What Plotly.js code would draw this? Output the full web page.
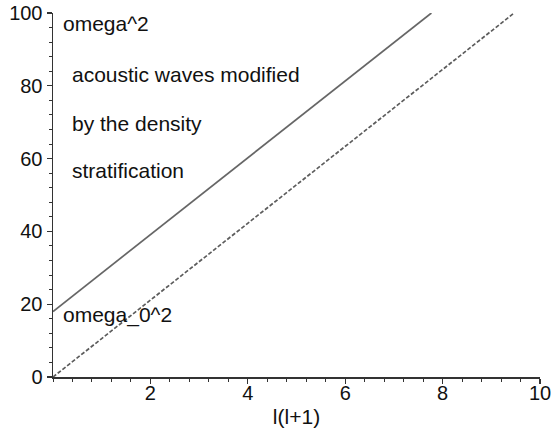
<!DOCTYPE html>
<html>
<head>
<meta charset="utf-8">
<script src="https://cdn.plot.ly/plotly-3.0.1.min.js"></script>
<style>
  html, body { margin: 0; padding: 0; background: #fff; }
  #plot { width: 555px; height: 428px; }
</style>
</head>
<body>
<div id="plot"></div>
<script>
// Dispersion sketch: omega^2 against l(l+1)
const modifiedL = [0, 7.77];       // l(l+1), acoustic branch with density stratification
const modifiedOmega2 = [18, 100];  // omega^2
const plainL = [0, 9.47];          // l(l+1), unmodified acoustic branch
const plainOmega2 = [0, 100];      // omega^2

const xTicks = [2, 4, 6, 8, 10];
const yTicks = [0, 20, 40, 60, 80, 100];

const labels = [
  { text: 'omega^2', x: 0.2, y: 97.1 },
  { text: 'acoustic waves modified', x: 0.384, y: 83.0 },
  { text: 'by the density', x: 0.384, y: 69.6 },
  { text: 'stratification', x: 0.384, y: 56.75 },
  { text: 'omega_0^2', x: 0.2, y: 16.9 }
];

const lineColor = '#666666';
const axisColor = '#333333';
const font = 'Liberation Sans, Arial, sans-serif';

const traces = [
  {
    x: modifiedL, y: modifiedOmega2, type: 'scatter', mode: 'lines',
    line: { color: lineColor, width: 1.7 }, hoverinfo: 'skip'
  },
  {
    x: plainL, y: plainOmega2, type: 'scatter', mode: 'lines',
    line: { color: '#5c5c5c', width: 1.7, dash: '4px,2px' }, hoverinfo: 'skip'
  }
];

const layout = {
  width: 555, height: 428,
  margin: { l: 53, r: 15, t: 13, b: 51, pad: 0 },
  paper_bgcolor: '#fff', plot_bgcolor: '#fff',
  showlegend: false,
  font: { family: font, size: 20, color: '#111' },
  xaxis: {
    range: [0, 10], tickvals: xTicks, ticktext: xTicks.map(String),
    showgrid: false, zeroline: false, showline: true,
    linecolor: axisColor, linewidth: 1.5,
    ticks: 'outside', ticklen: 5, tickwidth: 1.2, tickcolor: axisColor,
    ticklabelstandoff: -8,
    minor: { dtick: 0.4, ticks: 'outside', ticklen: 3, tickwidth: 1, tickcolor: axisColor, showgrid: false },
    tickfont: { family: font, size: 20, color: '#111' },
    title: { text: 'l(l+1)', font: { family: font, size: 21, color: '#111' }, standoff: 8 },
    fixedrange: true
  },
  yaxis: {
    range: [0, 100], tickvals: yTicks, ticktext: yTicks.map(String),
    showgrid: false, zeroline: false, showline: true,
    linecolor: axisColor, linewidth: 1.5,
    ticks: 'outside', ticklen: 5, tickwidth: 1.2, tickcolor: axisColor,
    minor: { dtick: 4, ticks: 'outside', ticklen: 3, tickwidth: 1, tickcolor: axisColor, showgrid: false },
    tickfont: { family: font, size: 20, color: '#111' },
    fixedrange: true
  },
  annotations: labels.map(a => ({
    text: a.text, x: a.x, y: a.y, xref: 'x', yref: 'y',
    xanchor: 'left', yanchor: 'middle', showarrow: false, xshift: -2,
    font: { family: font, size: 21, color: '#111' }
  }))
};

Plotly.newPlot('plot', traces, layout, { staticPlot: true, displayModeBar: false });
</script>
</body>
</html>
